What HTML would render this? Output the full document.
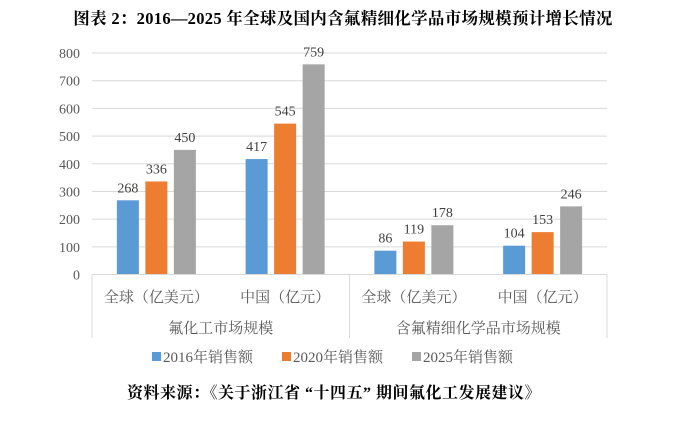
<!DOCTYPE html>
<html><head><meta charset="utf-8"><style>
body{margin:0;background:#fff;width:686px;height:423px;overflow:hidden;font-family:"Liberation Serif","Noto Serif CJK SC",serif}
svg{position:absolute;left:0;top:0}
</style></head><body>
<svg width="686" height="423">
<text x="343" y="24" text-anchor="middle" font-size="16.5" font-weight="bold" fill="#000" letter-spacing="0.3" font-family="Liberation Serif, Noto Serif CJK SC, serif">图表 2：2016—2025 年全球及国内含氟精细化学品市场规模预计增长情况</text>
<g id="grid"></g><g id="bars"></g><g id="axes"></g>
<text x="334" y="398" text-anchor="middle" font-size="16" font-weight="bold" fill="#000" letter-spacing="0.5" font-family="Liberation Serif, Noto Serif CJK SC, serif">资料来源：《关于浙江省 “十四五” 期间氟化工发展建议》</text>
</svg>
<script>
const categories=["全球（亿美元）","中国（亿元）","全球（亿美元）","中国（亿元）"];
const groups=["氟化工市场规模","含氟精细化学品市场规模"];
const seriesNames=["2016年销售额","2020年销售额","2025年销售额"];
const s2016=[268,417,86,104];
const s2020=[336,545,119,153];
const s2025=[450,759,178,246];
const yTicks=[0,100,200,300,400,500,600,700,800];
const colors=["#5b9bd5","#ed7d31","#a5a5a5"];
const NS="http://www.w3.org/2000/svg";
const X0=92,X1=607,Y0=274.5,Y800=53;
const y=v=>Y0-(v/800)*(Y0-Y800);
const cw=(X1-X0)/categories.length;
function mk(t,a,p,txt){const e=document.createElementNS(NS,t);for(const k in a)e.setAttribute(k,a[k]);if(txt!==undefined)e.textContent=txt;p.appendChild(e);return e;}
const grid=document.getElementById('grid'),bars=document.getElementById('bars'),axes=document.getElementById('axes');
const font="Liberation Serif, Noto Serif CJK SC, serif";
yTicks.forEach(t=>{
 if(t>0){const l=mk('line',{x1:X0,x2:X1,y1:y(t),y2:y(t),stroke:'#d9d9d9','stroke-width':1},grid);
 }
 const tx=mk('text',{x:80,y:y(t)+5,'text-anchor':'end','font-size':14,fill:'#595959','font-family':font},axes,t);
 
});
const series=[s2016,s2020,s2025];
categories.forEach((c,i)=>{
 const cx=X0+cw*(i+0.5);
 series.forEach((s,j)=>{
  const bx=cx+(j-1)*28.5-11;
  const r=mk('rect',{x:bx,y:y(s[i]),width:22,height:Y0-y(s[i]),fill:colors[j]},bars);
  
  
  const v=mk('text',{x:bx+11,y:y(s[i])-8,'text-anchor':'middle','font-size':14,fill:'#404040','font-family':font},bars,s[i]);
  
  
 });
 const ct=mk('text',{x:cx,y:302,'text-anchor':'middle','font-size':15,fill:'#595959','font-family':font},axes,c);
 
 
});
const ax=mk('line',{x1:X0,x2:X1,y1:Y0,y2:Y0,stroke:'#d9d9d9'},axes);


[0,2,4].forEach(k=>{
 const xx=X0+cw*k;
 const d=mk('line',{x1:xx,x2:xx,y1:Y0,y2:338,stroke:'#d9d9d9'},axes);
 
 
});
groups.forEach((g,i)=>{
 const gt=mk('text',{x:X0+cw*(2*i+1),y:333,'text-anchor':'middle','font-size':15,fill:'#595959','font-family':font},axes,g);
 
 
});
const lx=[152,282,412];
seriesNames.forEach((n,j)=>{
 const r=mk('rect',{x:lx[j],y:352,width:9,height:9,fill:colors[j]},axes);
 
 
 const t=mk('text',{x:lx[j]+11,y:362,'font-size':15,fill:'#595959','font-family':font},axes,n);
 
 
});
</script>
</body></html>
